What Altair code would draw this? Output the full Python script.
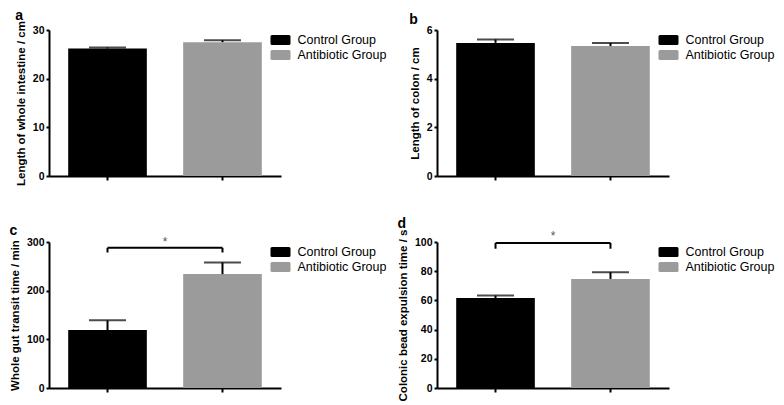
import altair as alt
import pandas as pd

# ---------------- data ----------------
groups = ["Control Group", "Antibiotic Group"]
bar_colors = ["#000000", "#9b9b9b"]

panel_labels = ["a", "b", "c", "d"]
y_titles = [
    "Length of whole intestine / cm",
    "Length of colon / cm",
    "Whole gut transit time / min",
    "Colonic bead expulsion time / s",
]
y_max = [30, 6, 300, 100]
y_ticks = [[0, 10, 20, 30], [0, 2, 4, 6], [0, 100, 200, 300], [0, 20, 40, 60, 80, 100]]

a_mean = [26.2, 27.5]
a_sem = [0.2, 0.4]
b_mean = [5.47, 5.34]
b_sem = [0.14, 0.13]
c_mean = [119, 234]
c_sem = [20, 24]
d_mean = [61.6, 74.7]
d_sem = [1.7, 4.6]

# significance bracket heights: [line, tick end, star] (c and d only)
c_sig = [288, 278.5, 301]
d_sig = [99.3, 95.4, 104]

# ---------------- styling ----------------
FONT = "Liberation Sans"
W, H = 232, 146
PAD_IN, PAD_OUT = 0.316, 0.167
STEP = W / (2 - PAD_IN + 2 * PAD_OUT)
STAR_DX = PAD_IN * STEP / 2
# rounded swatch, 20 x 10 px at size 289
SWATCH = ("M-1.0,-0.588 L1.0,-0.588 Q1.176,-0.588 1.176,-0.41 L1.176,0.41 "
          "Q1.176,0.588 1.0,0.588 L-1.0,0.588 Q-1.176,0.588 -1.176,0.41 "
          "L-1.176,-0.41 Q-1.176,-0.588 -1.0,-0.588 Z")


def xenc(field="group", **kw):
    return alt.X(
        f"{field}:N",
        sort=groups,
        scale=alt.Scale(domain=groups, paddingInner=PAD_IN, paddingOuter=PAD_OUT),
        axis=alt.Axis(title=None, labels=False, ticks=True, tickSize=4, tickWidth=2,
                      domainWidth=2, domainColor="black", tickColor="black", grid=False),
        **kw,
    )


def yenc(field, i):
    return alt.Y(
        f"{field}:Q",
        scale=alt.Scale(domain=[0, y_max[i]], nice=False, zero=True),
        axis=alt.Axis(title=y_titles[i], values=y_ticks[i], grid=False,
                      domainWidth=2, domainColor="black", tickColor="black",
                      tickWidth=2, tickSize=3, labelPadding=2,
                      labelFont=FONT, labelFontSize=10.5, labelFontWeight="bold",
                      labelColor="black", titleFont=FONT, titleFontSize=11.5,
                      titleFontWeight="bold", titleColor="black", titlePadding=6),
    )


def panel(i, means, sems, sig=None):
    df = pd.DataFrame({
        "group": groups,
        "mean": means,
        "top": [m + s for m, s in zip(means, sems)],
    })
    base = alt.Chart(df)
    bars = base.mark_bar().encode(
        x=xenc(),
        y=yenc("mean", i),
        color=alt.Color(
            "group:N", sort=groups,
            scale=alt.Scale(domain=groups, range=bar_colors),
            legend=alt.Legend(title=None, orient="none", legendX=223, legendY=1.5,
                              symbolType=SWATCH, symbolSize=289, symbolStrokeWidth=0,
                              labelFont=FONT, labelFontSize=12.5, labelColor="black",
                              labelOffset=8.5, rowPadding=0, padding=0),
        ),
    )
    err = base.mark_rule(strokeWidth=2, color="black").encode(
        x=xenc(), y=yenc("mean", i), y2="top:Q")
    cap = base.mark_tick(thickness=2, size=37, color="black").encode(
        x=xenc(), y=yenc("top", i))
    layers = [bars, err, cap]
    if sig is not None:
        line_y, tick_y, star_y = sig
        br = pd.DataFrame({"start": [groups[0]], "end": [groups[1]],
                           "y": [line_y], "star": [star_y]})
        ticks = pd.DataFrame({"group": groups, "y": [tick_y, tick_y],
                              "y2": [line_y, line_y]})
        hline = alt.Chart(br).mark_rule(strokeWidth=2, color="black").encode(
            x=xenc("start"), x2="end:N", y=yenc("y", i))
        vt = alt.Chart(ticks).mark_rule(strokeWidth=2, color="black").encode(
            x=xenc(), y=yenc("y", i), y2="y2:Q")
        star = alt.Chart(br).mark_text(text="*", fontSize=12, color="#555555",
                                       font=FONT, baseline="middle",
                                       dx=STAR_DX).encode(
            x=xenc("start", bandPosition=1), y=yenc("star", i))
        layers += [hline, vt, star]
    return alt.layer(*layers).properties(
        width=W, height=H,
        title=alt.TitleParams(panel_labels[i], anchor="start", font=FONT,
                              fontSize=14, fontWeight="bold", color="black",
                              offset=-2),
    )


pa = panel(0, a_mean, a_sem)
pb = panel(1, b_mean, b_sem)
pc = panel(2, c_mean, c_sem, c_sig)
pd_ = panel(3, d_mean, d_sem, d_sig)

chart = (
    alt.concat(pa, pb, pc, pd_, columns=2, spacing={"row": 30, "column": 8})
    .resolve_scale(color="independent")
    .resolve_legend(color="independent")
    .properties(padding=0, background="white")
    .configure_view(stroke="transparent")
)

chart.save("out.html", embed_options={"renderer": "svg", "actions": False})
